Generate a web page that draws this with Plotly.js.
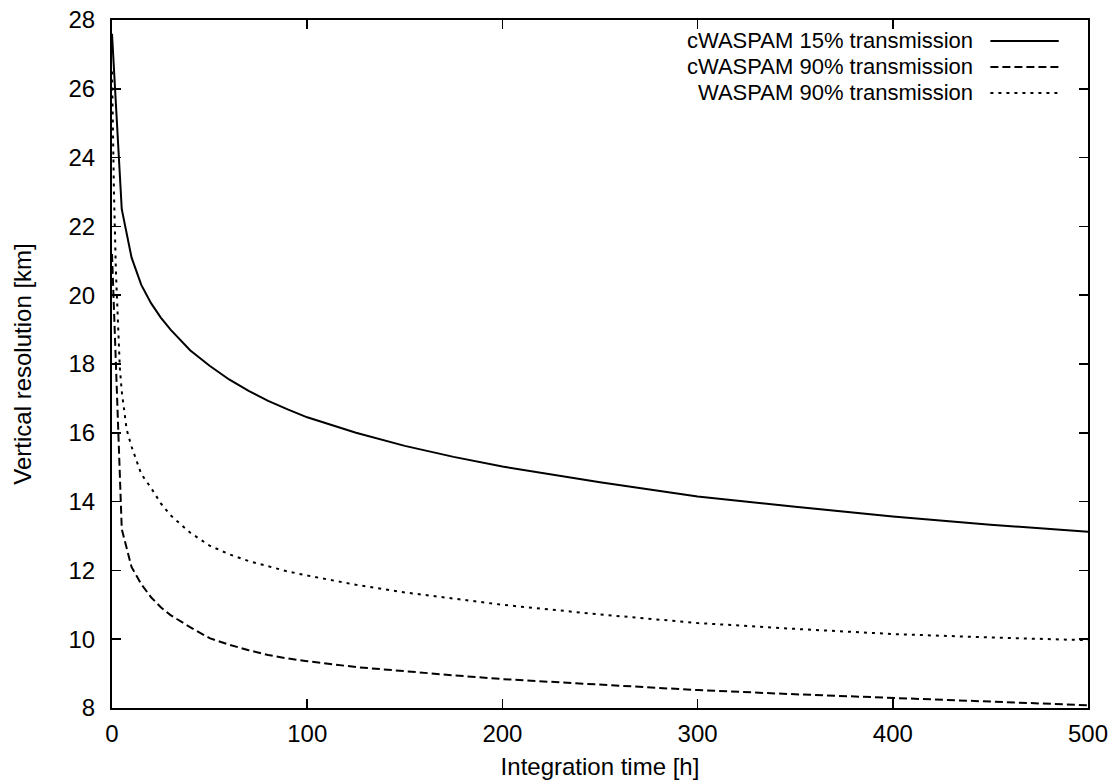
<!DOCTYPE html>
<html>
<head>
<meta charset="utf-8">
<script src="https://cdn.plot.ly/plotly-3.0.1.min.js"></script>
<style>
html,body{margin:0;padding:0;background:#fff;}
#chart{width:1118px;height:784px;}
</style>
</head>
<body>
<div id="chart"></div>
<script>
// Series names
const seriesNames = ["cWASPAM 15% transmission", "cWASPAM 90% transmission", "WASPAM 90% transmission"];

// cWASPAM 15% transmission (solid)
const solidX = [0, 5, 10, 15, 20, 25, 30, 40, 50, 60, 70, 80, 90, 100, 125, 150, 175, 200, 250, 300, 350, 400, 450, 500];
const solidY = [27.6, 22.5, 21.1, 20.3, 19.77, 19.35, 19.0, 18.4, 17.95, 17.55, 17.22, 16.93, 16.68, 16.45, 16.0, 15.62, 15.3, 15.02, 14.56, 14.15, 13.85, 13.57, 13.33, 13.12];

// cWASPAM 90% transmission (dashed)
const dashX = [0, 5, 10, 15, 20, 25, 30, 40, 50, 60, 70, 80, 90, 100, 125, 150, 175, 200, 250, 300, 350, 400, 450, 500];
const dashY = [21.2, 13.2, 12.1, 11.6, 11.22, 10.93, 10.7, 10.35, 10.03, 9.84, 9.68, 9.54, 9.44, 9.36, 9.19, 9.06, 8.95, 8.84, 8.67, 8.52, 8.4, 8.29, 8.18, 8.08];

// WASPAM 90% transmission (dotted)
const dotX = [0, 0.5, 1, 2, 3, 4, 5, 7.5, 10, 15, 20, 25, 30, 40, 50, 60, 70, 80, 90, 100, 125, 150, 175, 200, 250, 300, 350, 400, 450, 500];
const dotY = [26.5, 24.5, 23.0, 20.7, 19.2, 17.9, 17.2, 16.1, 15.6, 14.8, 14.4, 13.95, 13.6, 13.1, 12.72, 12.47, 12.27, 12.11, 11.97, 11.85, 11.58, 11.36, 11.17, 11.0, 10.72, 10.47, 10.3, 10.15, 10.05, 9.97];

const xTicks = [0, 100, 200, 300, 400, 500];
const yTicks = [8, 10, 12, 14, 16, 18, 20, 22, 24, 26, 28];

const FONT = "Liberation Sans, Arial, sans-serif";
const FS = 24;
const LFS = 22;
const dashStyles = ["solid", "8px,4px", "3px,5px"];

const traces = [
  {x: solidX, y: solidY, mode: "lines", name: seriesNames[0], line: {color: "#000", width: 2, dash: dashStyles[0]}},
  {x: dashX, y: dashY, mode: "lines", name: seriesNames[1], line: {color: "#000", width: 2, dash: dashStyles[1]}},
  {x: dotX, y: dotY, mode: "lines", name: seriesNames[2], line: {color: "#000", width: 2, dash: dashStyles[2]}}
];

// Legend drawn gnuplot-style: right-aligned text with sample on the right
const legendRowsY = [0.9695, 0.9317, 0.8939];
const annotations = [];
const shapes = [];
seriesNames.forEach((n, i) => {
  annotations.push({
    xref: "paper", yref: "paper", x: 0.883, y: legendRowsY[i],
    xanchor: "right", yanchor: "middle", text: n, showarrow: false,
    borderpad: 0,
    font: {family: FONT, size: LFS, color: "#000"}
  });
  shapes.push({
    type: "line", xref: "paper", yref: "paper",
    x0: 0.9, x1: 0.97, y0: legendRowsY[i], y1: legendRowsY[i],
    line: {color: "#000", width: 2, dash: dashStyles[i]}
  });
});

const layout = {
  width: 1118, height: 784,
  margin: {l: 112, r: 30, t: 20, b: 76},
  paper_bgcolor: "#fff", plot_bgcolor: "#fff",
  showlegend: false,
  font: {family: FONT, size: FS, color: "#000"},
  xaxis: {
    range: [0, 500], tickvals: xTicks, ticktext: xTicks.map(String),
    ticks: "inside", ticklen: 9, tickwidth: 1.5, tickcolor: "#000",
    showline: true, linewidth: 2, linecolor: "#000", mirror: "ticks",
    showgrid: false, zeroline: false, ticklabelstandoff: 3,
    tickfont: {family: FONT, size: FS, color: "#000"},
    title: {text: "Integration time [h]", font: {family: FONT, size: FS, color: "#000"}, standoff: 12}
  },
  yaxis: {
    range: [8, 28], tickvals: yTicks, ticktext: yTicks.map(String),
    ticks: "inside", ticklen: 9, tickwidth: 1.5, tickcolor: "#000",
    showline: true, linewidth: 2, linecolor: "#000", mirror: "ticks",
    showgrid: false, zeroline: false, ticklabelstandoff: 10,
    tickfont: {family: FONT, size: FS, color: "#000"},
    title: {text: "Vertical resolution [km]", font: {family: FONT, size: FS, color: "#000"}, standoff: 30}
  },
  annotations: annotations,
  shapes: shapes
};

Plotly.newPlot("chart", traces, layout, {displayModeBar: false, staticPlot: true});
</script>
</body>
</html>
